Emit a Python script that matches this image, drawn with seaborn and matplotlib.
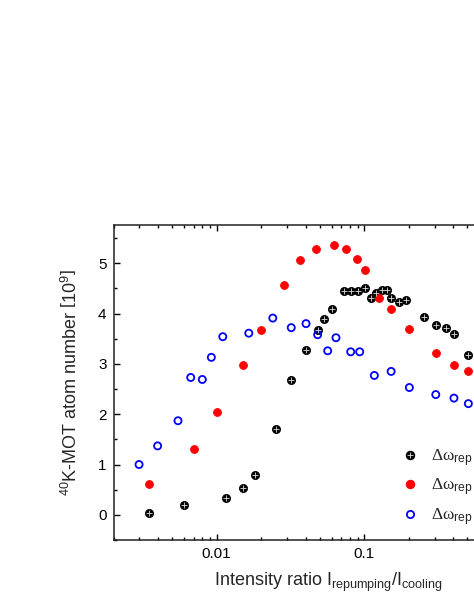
import numpy as np
import pandas as pd
import matplotlib
matplotlib.use("Agg")
import matplotlib.pyplot as plt
import seaborn as sns
from matplotlib.lines import Line2D
from matplotlib.font_manager import FontProperties

# Data
black_x = [0.00348, 0.0060, 0.0115, 0.0150, 0.0181, 0.0251, 0.0320, 0.0403, 0.0483, 0.0533,
           0.0604, 0.0725, 0.0813, 0.0906, 0.1012, 0.1105, 0.120, 0.131, 0.142, 0.152,
           0.172, 0.192, 0.252, 0.305, 0.356, 0.407, 0.507]
black_y = [0.03, 0.19, 0.33, 0.53, 0.80, 1.70, 2.67, 3.27, 3.68, 3.90,
           4.09, 4.45, 4.45, 4.45, 4.50, 4.31, 4.40, 4.46, 4.46, 4.30,
           4.23, 4.27, 3.94, 3.77, 3.72, 3.60, 3.18]

red_x = [0.00348, 0.00698, 0.0100, 0.0151, 0.0200, 0.0284, 0.0367, 0.0471, 0.0624, 0.0756,
         0.0889, 0.101, 0.125, 0.152, 0.202, 0.305, 0.405, 0.507]
red_y = [0.61, 1.30, 2.04, 2.97, 3.68, 4.57, 5.07, 5.29, 5.36, 5.29,
         5.08, 4.87, 4.30, 4.09, 3.70, 3.21, 2.98, 2.85]

blue_x = [0.00298, 0.00398, 0.00547, 0.00667, 0.00799, 0.0092, 0.0110, 0.0165, 0.0240, 0.0320,
          0.0403, 0.0483, 0.0565, 0.0643, 0.0809, 0.0931, 0.117, 0.152, 0.202, 0.305,
          0.405, 0.507]
blue_y = [1.00, 1.37, 1.87, 2.73, 2.69, 3.13, 3.54, 3.61, 3.91, 3.72,
          3.80, 3.58, 3.26, 3.52, 3.24, 3.24, 2.77, 2.85, 2.53, 2.39,
          2.32, 2.21]

# Greek in a serif face, subscript in sans (as in the original)
legend_labels = [r"$\mathcal{\Delta\omega}_\mathrm{rep}$"] * 3

sns.set_style("ticks")
plt.rcParams["font.family"] = ["Liberation Sans", "DejaVu Sans"]
plt.rcParams["mathtext.fontset"] = "custom"
plt.rcParams["mathtext.rm"] = "Liberation Sans"
plt.rcParams["mathtext.it"] = "Liberation Sans:italic"
plt.rcParams["mathtext.bf"] = "Liberation Sans:bold"
plt.rcParams["mathtext.cal"] = "Liberation Serif"

fig = plt.figure(figsize=(4.74, 6.14), dpi=100)
# axes runs past the right edge of the picture, as in the reference crop
ax = fig.add_axes([113.5 / 474, 74 / 614, 429 / 474, 315 / 614])

df_b = pd.DataFrame({"x": black_x, "y": black_y})
df_r = pd.DataFrame({"x": red_x, "y": red_y})
df_u = pd.DataFrame({"x": blue_x, "y": blue_y})

sns.scatterplot(data=df_b, x="x", y="y", ax=ax, marker="o", s=34, color="black",
                edgecolor="black", linewidth=0.6, zorder=3)
sns.scatterplot(data=df_b, x="x", y="y", ax=ax, marker="+", s=14, color="#dddddd",
                linewidth=0.6, zorder=4)
sns.scatterplot(data=df_r, x="x", y="y", ax=ax, marker="o", s=32, color="red",
                edgecolor="red", linewidth=0.6, zorder=3)
sns.scatterplot(data=df_u, x="x", y="y", ax=ax, marker="o", s=26, facecolor="none",
                edgecolor="blue", linewidth=1.3, zorder=3)

ax.set_xscale("log")
ax.set_xlim(0.002, 10 ** (-1 + (542.5 - 364.3) / 147.6))
ax.set_ylim(-0.48, 5.76)
ax.set_yticks([0, 1, 2, 3, 4, 5])
ax.set_yticks(np.arange(-0.5, 5.6, 0.5), minor=True)
ax.set_xticks([0.01, 0.1])
ax.set_xticklabels(["0.01", "0.1"])

ax.tick_params(which="both", direction="in", top=True, right=True, width=1.0, colors="black")
ax.tick_params(which="major", length=4.5, labelsize=11, pad=5)
ax.tick_params(which="minor", length=2.5)
for sp in ax.spines.values():
    sp.set_linewidth(1.1)
    sp.set_color("#222222")

ax.set_xlabel(r"Intensity ratio I$_\mathrm{repumping}$/I$_\mathrm{cooling}$", fontsize=13, labelpad=7)
ax.set_ylabel(r"$^{40}$K-MOT atom number $\left[10^{9}\right]$", fontsize=13, labelpad=12)

handles = [
    (Line2D([], [], marker="o", ls="", color="black", markersize=5.8),
     Line2D([], [], marker="+", ls="", color="#dddddd", markersize=3.8, markeredgewidth=0.6)),
    Line2D([], [], marker="o", ls="", color="red", markersize=5.8),
    Line2D([], [], marker="o", ls="", markerfacecolor="none", markeredgecolor="blue",
           markeredgewidth=1.3, markersize=5.2),
]
ax.legend(handles, legend_labels, loc="lower left", bbox_to_anchor=(0.635, -0.01),
          frameon=False, handlelength=1.0, handletextpad=0.7, labelspacing=0.45,
          prop=FontProperties(family="Liberation Sans", size=12.5))

fig.savefig("out.png", dpi=100)
